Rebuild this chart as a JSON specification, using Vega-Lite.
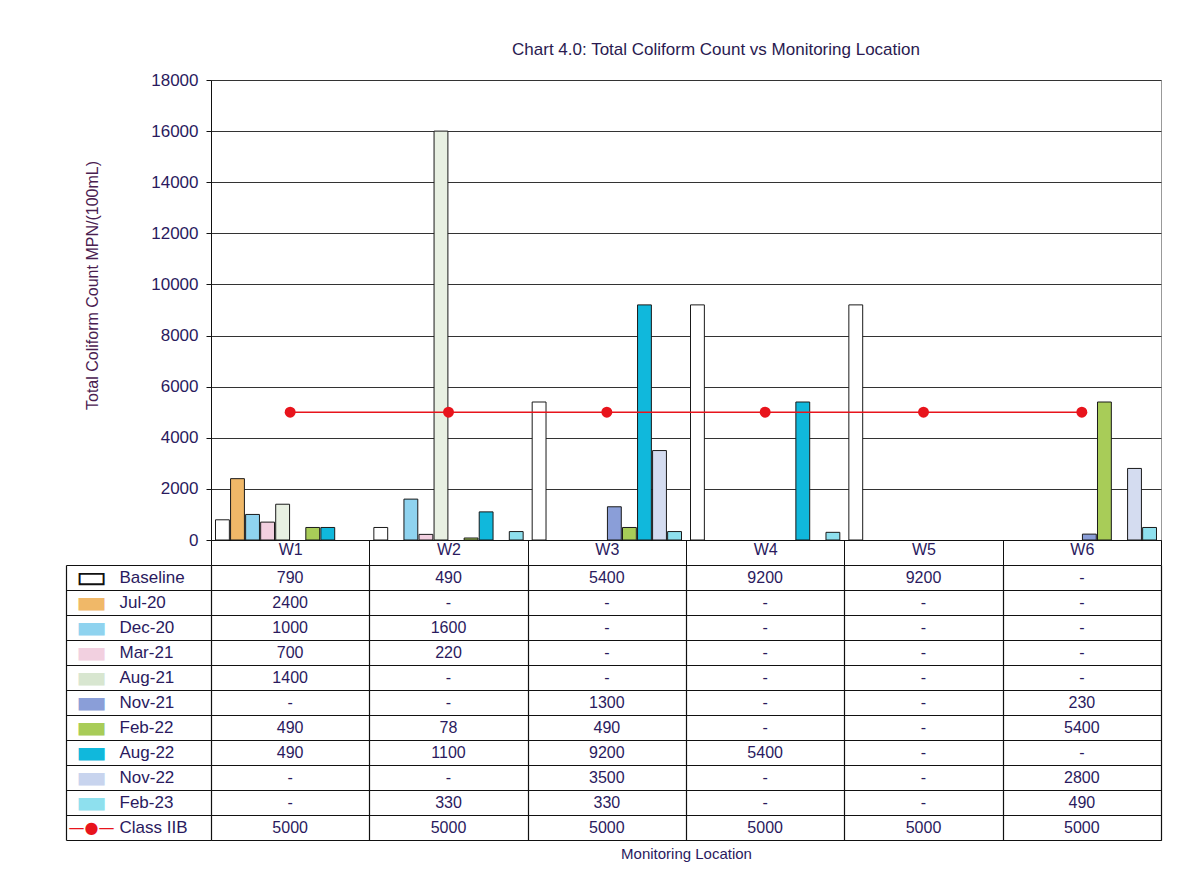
{
  "$schema": "https://vega.github.io/schema/vega-lite/v6.json",
  "padding": {"left": 65, "top": 40, "right": 30, "bottom": 10},
  "background": "#ffffff",
  "config": {"font": "Liberation Sans", "view": {"stroke": null}},
  "datasets": {
    "rows": [
      {"loc": "W1", "series": "Baseline", "value": 790, "label": "790"},
      {"loc": "W1", "series": "Jul-20", "value": 2400, "label": "2400"},
      {"loc": "W1", "series": "Dec-20", "value": 1000, "label": "1000"},
      {"loc": "W1", "series": "Mar-21", "value": 700, "label": "700"},
      {"loc": "W1", "series": "Aug-21", "value": 1400, "label": "1400"},
      {"loc": "W1", "series": "Nov-21", "value": null, "label": "-"},
      {"loc": "W1", "series": "Feb-22", "value": 490, "label": "490"},
      {"loc": "W1", "series": "Aug-22", "value": 490, "label": "490"},
      {"loc": "W1", "series": "Nov-22", "value": null, "label": "-"},
      {"loc": "W1", "series": "Feb-23", "value": null, "label": "-"},
      {"loc": "W1", "series": "Class IIB", "value": 5000, "label": "5000"},
      {"loc": "W2", "series": "Baseline", "value": 490, "label": "490"},
      {"loc": "W2", "series": "Jul-20", "value": null, "label": "-"},
      {"loc": "W2", "series": "Dec-20", "value": 1600, "label": "1600"},
      {"loc": "W2", "series": "Mar-21", "value": 220, "label": "220"},
      {"loc": "W2", "series": "Aug-21", "value": 16000, "label": "-"},
      {"loc": "W2", "series": "Nov-21", "value": null, "label": "-"},
      {"loc": "W2", "series": "Feb-22", "value": 78, "label": "78"},
      {"loc": "W2", "series": "Aug-22", "value": 1100, "label": "1100"},
      {"loc": "W2", "series": "Nov-22", "value": null, "label": "-"},
      {"loc": "W2", "series": "Feb-23", "value": 330, "label": "330"},
      {"loc": "W2", "series": "Class IIB", "value": 5000, "label": "5000"},
      {"loc": "W3", "series": "Baseline", "value": 5400, "label": "5400"},
      {"loc": "W3", "series": "Jul-20", "value": null, "label": "-"},
      {"loc": "W3", "series": "Dec-20", "value": null, "label": "-"},
      {"loc": "W3", "series": "Mar-21", "value": null, "label": "-"},
      {"loc": "W3", "series": "Aug-21", "value": null, "label": "-"},
      {"loc": "W3", "series": "Nov-21", "value": 1300, "label": "1300"},
      {"loc": "W3", "series": "Feb-22", "value": 490, "label": "490"},
      {"loc": "W3", "series": "Aug-22", "value": 9200, "label": "9200"},
      {"loc": "W3", "series": "Nov-22", "value": 3500, "label": "3500"},
      {"loc": "W3", "series": "Feb-23", "value": 330, "label": "330"},
      {"loc": "W3", "series": "Class IIB", "value": 5000, "label": "5000"},
      {"loc": "W4", "series": "Baseline", "value": 9200, "label": "9200"},
      {"loc": "W4", "series": "Jul-20", "value": null, "label": "-"},
      {"loc": "W4", "series": "Dec-20", "value": null, "label": "-"},
      {"loc": "W4", "series": "Mar-21", "value": null, "label": "-"},
      {"loc": "W4", "series": "Aug-21", "value": null, "label": "-"},
      {"loc": "W4", "series": "Nov-21", "value": null, "label": "-"},
      {"loc": "W4", "series": "Feb-22", "value": null, "label": "-"},
      {"loc": "W4", "series": "Aug-22", "value": 5400, "label": "5400"},
      {"loc": "W4", "series": "Nov-22", "value": null, "label": "-"},
      {"loc": "W4", "series": "Feb-23", "value": 300, "label": "-"},
      {"loc": "W4", "series": "Class IIB", "value": 5000, "label": "5000"},
      {"loc": "W5", "series": "Baseline", "value": 9200, "label": "9200"},
      {"loc": "W5", "series": "Jul-20", "value": null, "label": "-"},
      {"loc": "W5", "series": "Dec-20", "value": null, "label": "-"},
      {"loc": "W5", "series": "Mar-21", "value": null, "label": "-"},
      {"loc": "W5", "series": "Aug-21", "value": null, "label": "-"},
      {"loc": "W5", "series": "Nov-21", "value": null, "label": "-"},
      {"loc": "W5", "series": "Feb-22", "value": null, "label": "-"},
      {"loc": "W5", "series": "Aug-22", "value": null, "label": "-"},
      {"loc": "W5", "series": "Nov-22", "value": null, "label": "-"},
      {"loc": "W5", "series": "Feb-23", "value": null, "label": "-"},
      {"loc": "W5", "series": "Class IIB", "value": 5000, "label": "5000"},
      {"loc": "W6", "series": "Baseline", "value": null, "label": "-"},
      {"loc": "W6", "series": "Jul-20", "value": null, "label": "-"},
      {"loc": "W6", "series": "Dec-20", "value": null, "label": "-"},
      {"loc": "W6", "series": "Mar-21", "value": null, "label": "-"},
      {"loc": "W6", "series": "Aug-21", "value": null, "label": "-"},
      {"loc": "W6", "series": "Nov-21", "value": 230, "label": "230"},
      {"loc": "W6", "series": "Feb-22", "value": 5400, "label": "5400"},
      {"loc": "W6", "series": "Aug-22", "value": null, "label": "-"},
      {"loc": "W6", "series": "Nov-22", "value": 2800, "label": "2800"},
      {"loc": "W6", "series": "Feb-23", "value": 490, "label": "490"},
      {"loc": "W6", "series": "Class IIB", "value": 5000, "label": "5000"}
    ]
  },
  "vconcat": [
    {
      "width": 950,
      "height": 460,
      "data": {"name": "rows"},
      "title": {"text": "Chart 4.0: Total Coliform Count vs Monitoring Location", "fontSize": 17, "fontWeight": "normal", "color": "#2a1a50", "anchor": "middle", "offset": 12, "dx": 30},
      "view": {"stroke": "#999999"},
      "layer": [
        {
          "transform": [{"filter": "datum.series != 'Class IIB' && datum.value != null"}],
          "mark": {"type": "bar", "stroke": "#1a1a1a", "strokeWidth": 1},
          "encoding": {
            "x": {"field": "loc", "type": "nominal", "sort": ["W1", "W2", "W3", "W4", "W5", "W6"],
                  "scale": {"paddingInner": 0, "paddingOuter": 0},
                  "axis": {"title": null, "orient": "bottom", "labelAngle": 0, "labelFontSize": 16, "labelColor": "#2a1a5e", "labelPadding": -24, "ticks": true, "tickBand": "extent", "tickSize": 25, "tickColor": "#111111", "domainColor": "#111111", "grid": false}},
            "xOffset": {"field": "series", "type": "nominal", "sort": ["Baseline", "Jul-20", "Dec-20", "Mar-21", "Aug-21", "Nov-21", "Feb-22", "Aug-22", "Nov-22", "Feb-23"],
                        "scale": {"domain": ["Baseline", "Jul-20", "Dec-20", "Mar-21", "Aug-21", "Nov-21", "Feb-22", "Aug-22", "Nov-22", "Feb-23"], "paddingInner": 0.08, "paddingOuter": 0.3}},
            "y": {"field": "value", "type": "quantitative",
                  "scale": {"domain": [0, 18000], "nice": false},
                  "axis": {"title": "Total Coliform Count MPN/(100mL)", "titleFontSize": 16, "titleFontWeight": "normal", "titleColor": "#4a2050", "titlePadding": 50, "titleY": 205, "values": [0, 2000, 4000, 6000, 8000, 10000, 12000, 14000, 16000, 18000], "format": "d", "labelFontSize": 17, "labelColor": "#2a1a5e", "labelPadding": 8, "tickSize": 5, "tickColor": "#111111", "domainColor": "#111111", "gridColor": "#333333", "gridWidth": 1}},
            "color": {"field": "series", "type": "nominal", "legend": null,
                      "scale": {"domain": ["Baseline", "Jul-20", "Dec-20", "Mar-21", "Aug-21", "Nov-21", "Feb-22", "Aug-22", "Nov-22", "Feb-23"],
                                "range": ["#ffffff", "#f0b868", "#8fd3ef", "#f2d0e0", "#e8f0e2", "#8a9ed8", "#a8cc58", "#10b8dc", "#d4dcf0", "#8ee0ee"]}}
          }
        },
        {
          "transform": [{"filter": "datum.series == 'Class IIB'"}],
          "mark": {"type": "line", "color": "#e8141c", "strokeWidth": 1.5},
          "encoding": {
            "x": {"field": "loc", "type": "nominal"},
            "y": {"field": "value", "type": "quantitative"}
          }
        },
        {
          "transform": [{"filter": "datum.series == 'Class IIB'"}],
          "mark": {"type": "circle", "color": "#e8141c", "size": 120, "opacity": 1},
          "encoding": {
            "x": {"field": "loc", "type": "nominal"},
            "y": {"field": "value", "type": "quantitative"}
          }
        }
      ]
    },
    {
      "width": 950,
      "height": 275,
      "data": {"name": "rows"},
      "layer": [
        {
          "mark": {"type": "text", "fontSize": 16, "color": "#2a1a5e", "baseline": "middle"},
          "encoding": {
            "x": {"field": "loc", "type": "nominal", "sort": ["W1", "W2", "W3", "W4", "W5", "W6"],
                  "scale": {"paddingInner": 0, "paddingOuter": 0},
                  "axis": {"title": "Monitoring Location", "titleFontSize": 15, "titleFontWeight": "normal", "titleColor": "#2a1a5e", "titlePadding": 6, "labels": false, "ticks": false, "grid": true, "tickBand": "extent", "gridColor": "#111111", "gridWidth": 1.2, "domainColor": "#111111", "domainWidth": 1.2}},
            "y": {"field": "series", "type": "nominal",
                  "scale": {"domain": ["Baseline", "Jul-20", "Dec-20", "Mar-21", "Aug-21", "Nov-21", "Feb-22", "Aug-22", "Nov-22", "Feb-23", "Class IIB"], "paddingInner": 0, "paddingOuter": 0},
                  "axis": {"title": null, "orient": "left", "domain": false, "ticks": true, "tickBand": "extent", "tickSize": 145, "tickColor": "#111111", "tickWidth": 1.2, "grid": true, "gridColor": "#111111", "gridWidth": 1.2, "labelAlign": "left", "labelPadding": -53, "labelFontSize": 17, "labelColor": "#2a1a5e"}},
            "text": {"field": "label"}
          }
        },
        {
          "mark": {"type": "text", "opacity": 0},
          "encoding": {
            "y": {"field": "series", "type": "nominal",
                  "axis": {"title": null, "orient": "left", "domain": false, "ticks": false, "grid": false, "labelAlign": "center", "labelBaseline": "middle", "labelPadding": 120, "labelFont": "DejaVu Sans",
                           "labelFontSize": {"expr": "datum.value == 'Class IIB' ? 16 : 34"},
                           "labelExpr": "datum.value == 'Baseline' ? '▭' : datum.value == 'Class IIB' ? '—●—' : '▬'",
                           "labelColor": {"expr": "datum.value == 'Baseline' ? '#111111' : datum.value == 'Jul-20' ? '#f0b868' : datum.value == 'Dec-20' ? '#8fd3ef' : datum.value == 'Mar-21' ? '#f2d0e0' : datum.value == 'Aug-21' ? '#d8e6d0' : datum.value == 'Nov-21' ? '#8a9ed8' : datum.value == 'Feb-22' ? '#a8cc58' : datum.value == 'Aug-22' ? '#10b8dc' : datum.value == 'Nov-22' ? '#c8d4ee' : datum.value == 'Feb-23' ? '#8ee0ee' : '#e8141c'"}}}
          }
        },
        {
          "mark": {"type": "text", "opacity": 0},
          "encoding": {
            "y": {"field": "series", "type": "nominal",
                  "axis": {"title": null, "orient": "left", "offset": 145, "domain": true, "domainColor": "#111111", "domainWidth": 1.2, "ticks": false, "labels": false, "grid": false}}
          }
        }
      ],
      "resolve": {"axis": {"y": "independent"}}
    }
  ],
  "spacing": 25,
  "bounds": "flush",
  "resolve": {"scale": {"x": "independent", "y": "independent", "color": "independent"}}
}
